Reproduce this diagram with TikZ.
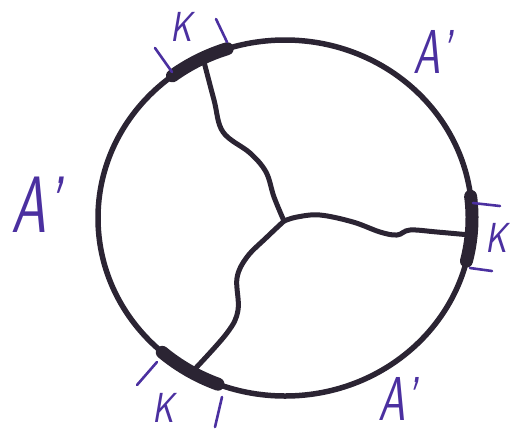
\documentclass[tikz,border=0pt]{standalone}
\usetikzlibrary{calc}
\definecolor{ink}{HTML}{2B2433}
\definecolor{pen}{HTML}{4B30A0}
\begin{document}
\begin{tikzpicture}[x=1pt, y=-1pt,
  rim/.style={draw=ink, line width=5.5pt},
  kseg/.style={draw=ink, line width=13pt, line cap=round},
  wall/.style={draw=ink, line width=5pt, line cap=round, line join=round},
  tick/.style={draw=pen, line width=2.6pt, line cap=round},
  klab/.style={text=pen, font=\fontsize{42}{42}\selectfont\sffamily\slshape, inner sep=0pt, xscale=0.8},
  alab/.style={text=pen, font=\fontsize{62}{62}\selectfont\sffamily\slshape, inner sep=0pt, xscale=0.7},
]
\useasboundingbox (0,0) rectangle (510,432);
\coordinate (ctr) at (285,218);
\coordinate (hub) at (284,221);
\coordinate (kt) at (203,58);
\coordinate (kr) at (470,235);
\coordinate (kb) at (193,371);
% outer rim and the three thick junctions
\draw[rim] (ctr) ellipse [x radius=187, y radius=178];
\draw[kseg] (ctr) ++(-127:187 and 178) arc[start angle=-127, end angle=-108, x radius=187, y radius=178];
\draw[kseg] (ctr) ++(-7:187 and 178) arc[start angle=-7, end angle=14, x radius=187, y radius=178];
\draw[kseg] (ctr) ++(111:187 and 178) arc[start angle=111, end angle=131, x radius=187, y radius=178];
% inner walls
\draw[wall] plot[smooth, tension=0.6] coordinates {(hub) (274,197) (266,172) (250,153) (223,132) (214,100) (kt)};
\draw[wall] plot[smooth, tension=0.6] coordinates {(hub) (297,217) (320,215) (353,222) (380,232) (397,235) (410,230) (437,232) (kr)};
\draw[wall] plot[smooth, tension=0.6] coordinates {(hub) (267,237) (247,257) (237,278) (238,310) (227,333) (kb)};
% ticks
\draw[tick] (155,48) -- (172,72);
\draw[tick] (216,19) -- (227,42);
\draw[tick] (473,203) -- (500,206);
\draw[tick] (470,268) -- (492,271);
\draw[tick] (137,385) -- (157,362);
\draw[tick] (215,427) -- (222,397);
% labels
\node[klab] (ktl) at (181,27) {K};
\node[klab] (krl) at (496,238) {K};
\node[klab] (kbl) at (163,408) {K};
\node[alab, font=\fontsize{80}{80}\selectfont\sffamily\slshape] (awest) at (36,205) {A'};
\node[alab] (anorth) at (433,52) {A'};
\node[alab] (asouth) at (398,399) {A'};
\end{tikzpicture}
\end{document}
